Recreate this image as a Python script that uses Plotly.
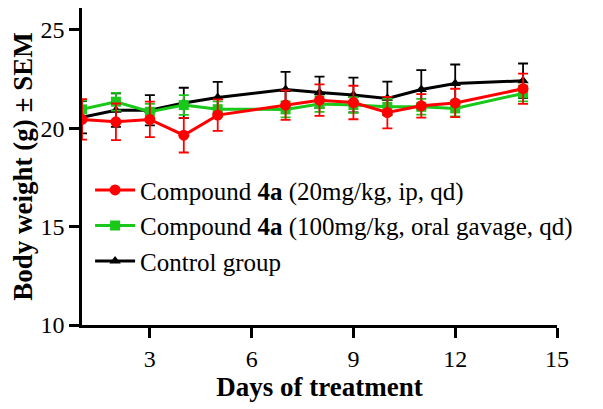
import plotly.graph_objects as go

days = [1, 2, 3, 4, 5, 7, 8, 9, 10, 11, 12, 14]

red_mean = [20.44, 20.32, 20.44, 19.64, 20.66, 21.17, 21.42, 21.30, 20.79, 21.13, 21.28, 22.00]
red_sem = [1.03, 0.93, 0.90, 0.88, 0.80, 0.75, 0.80, 0.85, 0.80, 0.60, 0.72, 0.77]

green_mean = [20.95, 21.34, 20.83, 21.17, 20.96, 20.95, 21.22, 21.17, 21.08, 21.08, 21.00, 21.76]
green_sem = [0.45, 0.45, 0.40, 0.50, 0.40, 0.40, 0.40, 0.40, 0.40, 0.40, 0.40, 0.40]

black_mean = [20.55, 20.91, 20.91, 21.28, 21.55, 21.96, 21.81, 21.68, 21.51, 21.96, 22.27, 22.40]
black_sem = [0.82, 0.85, 0.77, 0.77, 0.80, 0.90, 0.80, 0.88, 0.85, 0.98, 0.96, 0.88]

names = ["Compound <b>4a</b> (20mg/kg, ip, qd)",
         "Compound <b>4a</b> (100mg/kg, oral gavage, qd)",
         "Control group"]

x_ticks = [3, 6, 9, 12, 15]
y_ticks = [10, 15, 20, 25]

font_family = "Liberation Serif, Times New Roman, serif"

fig = go.Figure()

fig.add_trace(go.Scatter(
    x=days, y=black_mean, name=names[2], legendrank=3,
    mode="lines+markers",
    line=dict(color="black", width=3),
    marker=dict(symbol="triangle-up", size=10, color="black"),
    error_y=dict(type="data", array=black_sem, color="black", thickness=1.8, width=5),
))
fig.add_trace(go.Scatter(
    x=days, y=green_mean, name=names[1], legendrank=2,
    mode="lines+markers",
    line=dict(color="#19c819", width=3),
    marker=dict(symbol="square", size=10, color="#19c819"),
    error_y=dict(type="data", array=green_sem, color="#19c819", thickness=1.8, width=5),
))
fig.add_trace(go.Scatter(
    x=days, y=red_mean, name=names[0], legendrank=1,
    mode="lines+markers",
    line=dict(color="#ff0000", width=3),
    marker=dict(symbol="circle", size=11, color="#ff0000"),
    error_y=dict(type="data", array=red_sem, color="#ff0000", thickness=1.8, width=5),
))

fig.update_layout(
    width=595, height=401,
    margin=dict(l=74, r=46, t=0, b=84, autoexpand=False),
    paper_bgcolor="white", plot_bgcolor="white",
    font=dict(family=font_family, size=24, color="black"),
    showlegend=True,
    legend=dict(
        x=0.017, y=0.498, xanchor="left", yanchor="top",
        bgcolor="rgba(0,0,0,0)",
        font=dict(family=font_family, size=25, color="black"),
        tracegroupgap=5,
        itemwidth=40,
    ),
    xaxis=dict(
        range=[1, 15], tickmode="array", tickvals=x_ticks,
        showline=True, linecolor="black", linewidth=2.5,
        ticks="outside", ticklen=10, tickwidth=2.5, tickcolor="black",
        showgrid=False, zeroline=False, automargin=False,
        tickfont=dict(family=font_family, size=24),
        title=dict(text="<b>Days of treatment</b>", font=dict(family=font_family, size=27), standoff=2),
    ),
    yaxis=dict(
        range=[10, 26.1], tickmode="array", tickvals=y_ticks,
        showline=True, linecolor="black", linewidth=2.5,
        ticks="outside", ticklen=10, tickwidth=2.5, tickcolor="black",
        showgrid=False, zeroline=False, automargin=False,
        tickfont=dict(family=font_family, size=24),
        title=dict(text="<b>Body weight (g) ± SEM</b>", font=dict(family=font_family, size=27), standoff=12),
    ),
)

fig.write_html("out.html")
